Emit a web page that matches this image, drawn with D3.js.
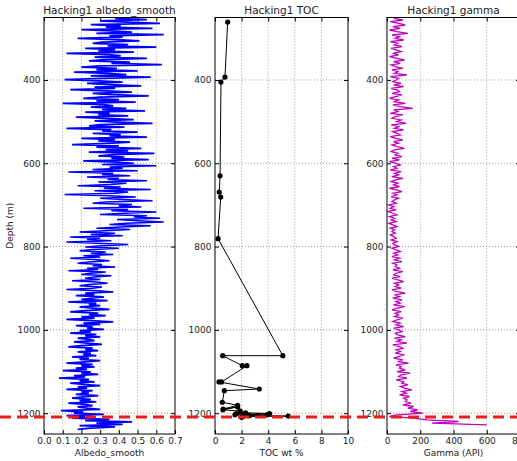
<!DOCTYPE html>
<html>
<head>
<meta charset="utf-8">
<script src="https://cdn.jsdelivr.net/npm/d3@7"></script>
<style>
  body { margin: 0; background: #fff; }
  text { font-family: "DejaVu Sans", sans-serif; fill: #222; }
</style>
</head>
<body>
<div id="chart"></div>
<script>
// depth ticks shared by the three tracks
const depthTicks = [400, 600, 800, 1000, 1200];
const cutDepth = 1209;

// albedo_smooth, one value every 3 m from 252 m
const albedoStart = 252, albedoStep = 3;
const albedo = [
  0.38,0.55,0.30,0.44,0.62,0.25,0.41,0.33,0.58,0.20,
  0.36,0.47,0.28,0.64,0.35,0.42,0.18,0.39,0.51,0.31,
  0.26,0.45,0.34,0.60,0.22,0.38,0.29,0.48,0.12,0.35,
  0.41,0.27,0.55,0.32,0.24,0.46,0.36,0.63,0.30,0.20,
  0.39,0.28,0.50,0.16,0.34,0.44,0.25,0.57,0.31,0.11,
  0.29,0.42,0.23,0.35,0.52,0.27,0.38,0.14,0.33,0.47,
  0.26,0.36,0.56,0.30,0.21,0.40,0.28,0.49,0.10,0.32,
  0.37,0.25,0.44,0.31,0.54,0.22,0.35,0.29,0.45,0.17,
  0.33,0.48,0.27,0.39,0.58,0.30,0.24,0.43,0.12,0.36,
  0.31,0.50,0.26,0.41,0.35,0.55,0.20,0.38,0.29,0.46,
  0.34,0.15,0.40,0.28,0.52,0.33,0.45,0.24,0.59,0.37,
  0.29,0.43,0.36,0.56,0.21,0.39,0.48,0.31,0.60,0.35,
  0.42,0.26,0.50,0.13,0.37,0.31,0.46,0.23,0.40,0.34,
  0.55,0.29,0.44,0.36,0.18,0.41,0.32,0.57,0.27,0.45,
  0.38,0.11,0.35,0.49,0.30,0.42,0.58,0.33,0.26,0.47,
  0.40,0.52,0.21,0.45,0.36,0.60,0.43,0.30,0.55,0.48,
  0.62,0.39,0.50,0.64,0.44,0.35,0.57,0.41,0.28,0.46,
  0.33,0.19,0.38,0.25,0.42,0.14,0.30,0.23,0.36,0.12,
  0.28,0.45,0.31,0.22,0.40,0.26,0.19,0.33,0.25,0.37,
  0.21,0.30,0.14,0.27,0.35,0.24,0.18,0.31,0.26,0.38,
  0.23,0.29,0.13,0.33,0.25,0.20,0.36,0.27,0.22,0.30,
  0.15,0.28,0.34,0.24,0.19,0.31,0.26,0.12,0.29,0.37,
  0.22,0.27,0.17,0.32,0.25,0.20,0.34,0.13,0.28,0.24,
  0.30,0.19,0.26,0.35,0.22,0.14,0.29,0.24,0.33,0.20,
  0.27,0.12,0.25,0.37,0.21,0.30,0.17,0.26,0.23,0.32,
  0.19,0.25,0.14,0.28,0.22,0.30,0.18,0.24,0.27,0.16,
  0.23,0.31,0.20,0.13,0.26,0.22,0.29,0.18,0.25,0.21,
  0.28,0.15,0.24,0.19,0.30,0.22,0.12,0.26,0.20,0.27,
  0.17,0.23,0.10,0.25,0.20,0.29,0.16,0.22,0.08,0.24,
  0.19,0.27,0.14,0.21,0.30,0.18,0.23,0.12,0.26,0.20,
  0.24,0.17,0.29,0.21,0.15,0.25,0.19,0.28,0.13,0.22,
  0.26,0.18,0.23,0.30,0.09,0.21,0.16,0.32,0.12,0.27,
  0.15,0.35,0.22,0.47,0.28,0.42,0.19,0.38,0.25,0.18
];

// gamma (API), one value every 4 m from 252 m
const gammaStart = 252, gammaStep = 4;
const gamma = [
  40,95,20,70,110,35,80,15,60,125,
  30,75,50,100,20,65,45,90,25,55,
  85,35,70,15,60,105,40,80,25,50,
  95,30,65,45,120,20,70,55,35,85,
  40,100,25,60,75,30,90,50,15,70,
  45,110,35,80,155,40,65,20,95,50,
  30,85,60,115,25,70,45,100,35,60,
  80,20,55,95,40,70,30,60,105,45,
  25,65,50,90,30,75,15,55,80,40,
  60,20,85,45,70,30,95,50,25,65,
  40,75,15,55,90,35,60,25,70,45,
  30,55,10,40,20,50,5,35,60,15,
  45,25,55,10,35,60,20,45,30,50,
  20,40,55,25,60,35,45,70,30,55,
  80,40,65,30,75,45,90,35,60,50,
  75,35,95,55,40,80,30,65,100,45,
  70,50,85,30,60,110,45,75,35,90,
  55,80,40,105,60,30,85,50,70,45,
  95,60,35,80,55,100,40,70,90,50,
  65,110,45,85,60,120,35,75,95,55,
  80,50,105,70,40,95,65,130,55,85,
  75,110,60,140,85,70,120,55,100,90,
  125,80,105,150,90,115,75,135,100,120,
  110,145,95,160,125,185,140,215,60,15,
  160,240,430,270,600
];

// TOC samples
const tocDepth = [261,393,405,630,669,681,781,1062,1062,1086,1086,1125,1125,1142,1146,1174,1181,1190,
                  1185,1192,1195,1201,1199,1201,1203,1205,1204,1204,1208,1207,1206,1210];
const tocValue = [0.95,0.75,0.45,0.38,0.32,0.43,0.23,5.1,0.58,2.05,2.4,0.5,0.3,3.33,0.7,0.55,1.7,0.62,
                  1.7,0.6,1.9,1.6,2.3,4.1,2.2,3.2,1.5,3.9,2.1,5.5,2.6,2.0];

const width = 517, height = 461;
const plotTop = 17.5, plotBottom = 434;

const svg = d3.select("#chart").append("svg")
  .attr("width", width)
  .attr("height", height);

const y = d3.scaleLinear().domain([250, 1250]).range([plotTop, plotBottom]);

const panels = [
  {id: "alb", title: "Hacking1 albedo_smooth", label: "Albedo_smooth", left: 44, right: 175,
   domain: [0, 0.7], ticks: d3.range(0, 0.71, 0.1), fmt: d3.format(".1f")},
  {id: "toc", title: "Hacking1 TOC", label: "TOC wt %", left: 215, right: 348,
   domain: [0, 10], ticks: [0, 2, 4, 6, 8, 10], fmt: d3.format("d")},
  {id: "gam", title: "Hacking1 gamma", label: "Gamma (API)", left: 387, right: 520,
   domain: [0, 800], ticks: [0, 200, 400, 600, 800], fmt: d3.format("d")}
];

panels.forEach(p => {
  p.x = d3.scaleLinear().domain(p.domain).range([p.left, p.right]);
  const g = svg.append("g");

  svg.append("clipPath").attr("id", "clip-" + p.id)
    .append("rect")
    .attr("x", p.left).attr("y", plotTop)
    .attr("width", p.right - p.left).attr("height", plotBottom - plotTop);

  // grid
  g.selectAll(".vg").data(p.ticks.slice(1, -1)).enter().append("line")
    .attr("x1", d => p.x(d)).attr("x2", d => p.x(d))
    .attr("y1", plotTop).attr("y2", plotBottom)
    .attr("stroke", "#999").attr("stroke-dasharray", "1,2");
  g.selectAll(".hg").data(depthTicks).enter().append("line")
    .attr("x1", p.left).attr("x2", p.right)
    .attr("y1", d => y(d)).attr("y2", d => y(d))
    .attr("stroke", "#999").attr("stroke-dasharray", "1,2");

  // axes with inward ticks
  const xAxis = g.append("g")
    .attr("transform", `translate(0,${plotBottom})`)
    .call(d3.axisBottom(p.x).tickValues(p.ticks).tickFormat(p.fmt).tickSizeInner(-4).tickSizeOuter(0).tickPadding(4));
  xAxis.select(".domain").remove();
  xAxis.selectAll("text").attr("font-size", 9).style("font-family", "DejaVu Sans");

  const yAxis = g.append("g")
    .attr("transform", `translate(${p.left},0)`)
    .call(d3.axisLeft(y).tickValues(depthTicks).tickFormat(d3.format("d")).tickSizeInner(-4).tickSizeOuter(0).tickPadding(3.5));
  yAxis.select(".domain").remove();
  yAxis.selectAll("text").attr("font-size", 9).style("font-family", "DejaVu Sans");

  g.append("g").attr("transform", `translate(${p.right},0)`)
    .call(d3.axisRight(y).tickValues(depthTicks).tickFormat("").tickSizeInner(-4).tickSizeOuter(0))
    .select(".domain").remove();
  g.append("g").attr("transform", `translate(0,${plotTop})`)
    .call(d3.axisTop(p.x).tickValues(p.ticks).tickFormat("").tickSizeInner(-4).tickSizeOuter(0))
    .select(".domain").remove();

  // titles
  svg.append("text")
    .attr("x", (p.left + p.right) / 2).attr("y", 13.5)
    .attr("text-anchor", "middle").attr("font-size", 10.5)
    .text(p.title);
  svg.append("text")
    .attr("x", (p.left + p.right) / 2).attr("y", 455.5)
    .attr("text-anchor", "middle").attr("font-size", 9)
    .text(p.label);

  p.g = g.append("g").attr("clip-path", `url(#clip-${p.id})`);
});

// albedo curve
const pa = panels[0];
pa.g.append("path")
  .datum(albedo)
  .attr("fill", "none").attr("stroke", "#0000ff").attr("stroke-width", 1.7)
  .attr("d", d3.line().x(d => pa.x(d)).y((d, i) => y(albedoStart + i * albedoStep)));

// TOC curve
const pt = panels[1];
const toc = tocDepth.map((d, i) => ({depth: d, v: tocValue[i]}));
pt.g.append("path")
  .datum(toc)
  .attr("fill", "none").attr("stroke", "#000").attr("stroke-width", 1)
  .attr("d", d3.line().x(d => pt.x(d.v)).y(d => y(d.depth)));
pt.g.selectAll("circle").data(toc).enter().append("circle")
  .attr("cx", d => pt.x(d.v)).attr("cy", d => y(d.depth)).attr("r", 2.6)
  .attr("fill", "#000");

// gamma curve
const pg = panels[2];
pg.g.append("path")
  .datum(gamma)
  .attr("fill", "none").attr("stroke", "#bf00bf").attr("stroke-width", 1.3)
  .attr("d", d3.line().x(d => pg.x(d)).y((d, i) => y(gammaStart + i * gammaStep)));

// frames
panels.forEach(p => {
  svg.append("rect")
    .attr("x", p.left).attr("y", plotTop)
    .attr("width", p.right - p.left).attr("height", plotBottom - plotTop)
    .attr("fill", "none").attr("stroke", "#000").attr("stroke-width", 1);
});

// depth label
svg.append("text")
  .attr("transform", `translate(13,${(plotTop + plotBottom) / 2}) rotate(-90)`)
  .attr("text-anchor", "middle").attr("font-size", 9)
  .text("Depth (m)");

// cut line across all tracks
svg.append("line")
  .attr("x1", 0).attr("x2", width)
  .attr("y1", y(cutDepth)).attr("y2", y(cutDepth))
  .attr("stroke", "#ee1c1c").attr("stroke-width", 3)
  .attr("stroke-dasharray", "11,6");
</script>
</body>
</html>
